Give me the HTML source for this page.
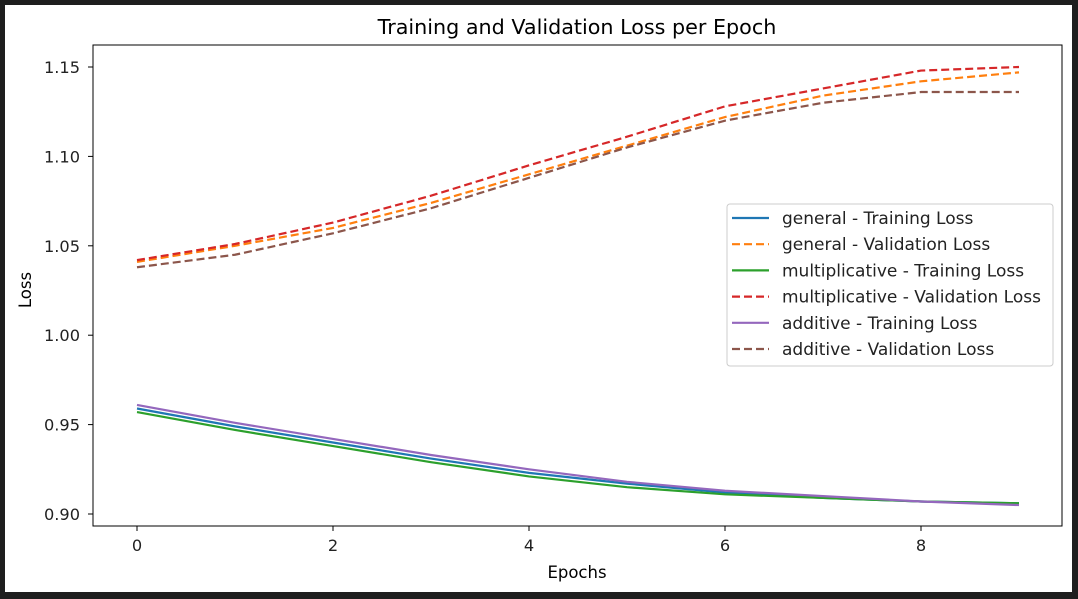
<!DOCTYPE html>
<html><head><meta charset="utf-8"><style>
body{margin:0;background:#1e1e1e;}
svg{display:block;font-family:"DejaVu Sans","Liberation Sans",sans-serif;}
</style></head><body>
<svg id="chart" width="1078" height="599">
<rect x="5" y="5" width="1067" height="587" fill="#fff"/>
<text x="577" y="34" font-size="20.7" text-anchor="middle" fill="#000">Training and Validation Loss per Epoch</text>
<g id="plot"></g>
<text x="577" y="578" font-size="16.5" text-anchor="middle">Epochs</text>
<text transform="translate(31,290) rotate(-90)" font-size="16.5" text-anchor="middle">Loss</text>
</svg>
<script>
const epochs=[0,1,2,3,4,5,6,7,8,9];
const generalTrain=[0.959,0.949,0.940,0.931,0.923,0.917,0.912,0.909,0.907,0.906];
const generalVal=[1.041,1.050,1.060,1.074,1.090,1.106,1.122,1.134,1.142,1.147];
const multTrain=[0.957,0.947,0.938,0.929,0.921,0.915,0.911,0.909,0.907,0.906];
const multVal=[1.042,1.051,1.063,1.078,1.095,1.111,1.128,1.138,1.148,1.150];
const addTrain=[0.961,0.951,0.942,0.933,0.925,0.918,0.913,0.910,0.907,0.905];
const addVal=[1.038,1.045,1.057,1.071,1.088,1.105,1.120,1.130,1.136,1.136];
const xTicks=[0,2,4,6,8];
const yTicks=[0.90,0.95,1.00,1.05,1.10,1.15];
const seriesNames=["general - Training Loss","general - Validation Loss","multiplicative - Training Loss","multiplicative - Validation Loss","additive - Training Loss","additive - Validation Loss"];

const NS="http://www.w3.org/2000/svg";
const L=93,R=1062,T=45,B=526;
const xs=v=>137+(v-0)*98;
const ys=v=>514-(v-0.90)*1788;
const g=document.getElementById('plot');
function mk(t,a){const e=document.createElementNS(NS,t);for(const k in a)e.setAttribute(k,a[k]);return e;}

yTicks.forEach(v=>{
  const y=ys(v);
  const tk=mk('line',{x1:L-5,x2:L,y1:y,y2:y,stroke:'#000','stroke-width':1});
  
  
  g.appendChild(tk);
  const tx=mk('text',{x:L-13,y:y+6,'font-size':16.2,'text-anchor':'end',fill:'#222'});
  tx.textContent=v.toFixed(2);
  
  
  g.appendChild(tx);
});
xTicks.forEach(v=>{
  const x=xs(v);
  const tk=mk('line',{x1:x,x2:x,y1:B,y2:B+5,stroke:'#000','stroke-width':1});
  
  
  g.appendChild(tk);
  const tx=mk('text',{x:x,y:B+25,'font-size':16.2,'text-anchor':'middle',fill:'#222'});
  tx.textContent=String(v);
  
  
  g.appendChild(tx);
});

const series=[
 {d:generalTrain,c:'#1f77b4',dash:false},
 {d:generalVal,c:'#ff7f0e',dash:true},
 {d:multTrain,c:'#2ca02c',dash:false},
 {d:multVal,c:'#d62728',dash:true},
 {d:addTrain,c:'#9467bd',dash:false},
 {d:addVal,c:'#8c564b',dash:true}
];
series.forEach((s,i)=>{
  const pts=epochs.map((e,j)=>xs(e)+','+ys(s.d[j])).join(' ');
  const pl=mk('polyline',{points:pts,fill:'none',stroke:s.c,'stroke-width':2.2});
  if(s.dash)pl.setAttribute('stroke-dasharray','8,4');
  
  
  g.appendChild(pl);
});

const frame=mk('rect',{x:L,y:T,width:R-L,height:B-T,fill:'none',stroke:'#000','stroke-width':1});


g.appendChild(frame);

const lg=mk('rect',{x:727,y:204,width:326,height:162,rx:3,fill:'#fff','fill-opacity':0.9,stroke:'#ccc','stroke-width':1});


g.appendChild(lg);
series.forEach((s,i)=>{
  const y=218+i*26.2;
  const ln=mk('line',{x1:732,x2:769,y1:y,y2:y,stroke:s.c,'stroke-width':2.2});
  if(s.dash)ln.setAttribute('stroke-dasharray','8,4');
  
  
  g.appendChild(ln);
  const tx=mk('text',{x:782,y:y+6,'font-size':17,fill:'#222'});
  tx.textContent=seriesNames[i];
  
  
  g.appendChild(tx);
});
</script>
</body></html>
